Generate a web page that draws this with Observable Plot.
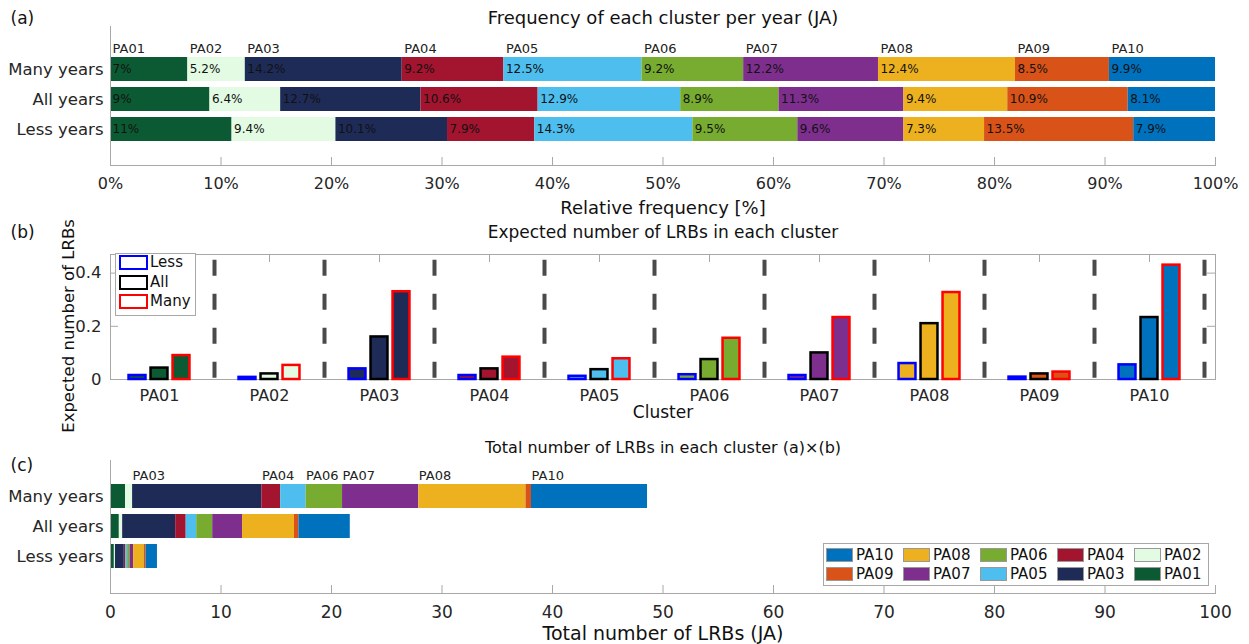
<!DOCTYPE html>
<html><head><meta charset="utf-8">
<script src="https://cdn.jsdelivr.net/npm/d3@7"></script>
<script src="https://cdn.jsdelivr.net/npm/@observablehq/plot@0.6"></script>
<style>
body{margin:0;background:#fff;font-family:"DejaVu Sans",sans-serif;}
#wrap{position:relative;width:1249px;height:644px;overflow:hidden;background:#fff;}
.panel{position:absolute;left:0;}
.legbox{position:absolute;background:#fff;border:1px solid #a8a8a8;box-sizing:border-box;}
.sw{position:absolute;box-sizing:border-box;}
.lt{position:absolute;font-size:15px;line-height:15px;color:#111;white-space:nowrap;}
.ylab{position:absolute;font-size:16.5px;color:#111;white-space:nowrap;transform:translate(-50%,-50%) rotate(-90deg);}
</style></head><body><div id="wrap"></div>
<script>
// ---------- data ----------
const clusters = ["PA01","PA02","PA03","PA04","PA05","PA06","PA07","PA08","PA09","PA10"];
const groups = ["Many years","All years","Less years"];
const palette = ["#0c5a34","#e2fbe2","#1e2b57","#a3142f","#4dbeee","#77ac30","#7e2f8e","#edb120","#d95319","#0072bd"];
// (a) relative frequency [%]
const freqMany = [7,5.2,14.2,9.2,12.5,9.2,12.2,12.4,8.5,9.9];
const freqAll  = [9,6.4,12.7,10.6,12.9,8.9,11.3,9.4,10.9,8.1];
const freqLess = [11,9.4,10.1,7.9,14.3,9.5,9.6,7.3,13.5,7.9];
const pctTicks = [0,10,20,30,40,50,60,70,80,90,100];
// (b) expected number of LRBs
const series = ["Less","All","Many"];
const expLess = [0.015,0.008,0.040,0.015,0.012,0.018,0.015,0.060,0.009,0.055];
const expAll  = [0.043,0.021,0.160,0.040,0.037,0.075,0.100,0.210,0.021,0.233];
const expMany = [0.090,0.053,0.330,0.084,0.078,0.155,0.233,0.327,0.028,0.430];
const expTicks = [0,0.2,0.4];
// (c) total number of LRBs
const totMany = [1.36,0.64,11.7,1.7,2.3,3.3,6.9,9.7,0.5,10.5];
const totAll  = [0.8,0.3,4.8,0.95,0.95,1.45,2.7,4.7,0.4,4.65];
const totLess = [0.35,0.1,0.8,0.12,0.18,0.22,0.32,0.98,0.15,1.03];
const totTicks = [0,10,20,30,40,50,60,70,80,90,100];
const labeledC = ["PA03","PA04","PA06","PA07","PA08","PA10"];

// ---------- helpers ----------
const W = 1249, ML = 110, MR = 34;
const FONT = '"DejaVu Sans", sans-serif';
const AX = "#a8a8a8", TXT = "#262626";
const wrap = document.getElementById("wrap");
function place(svg, top){ svg.classList.add("panel"); svg.style.top = top + "px"; wrap.appendChild(svg); }
function long(arrs){ const out=[]; groups.forEach((g,gi)=>clusters.forEach((c,i)=>out.push({group:g,cluster:c,value:arrs[gi][i]}))); return out; }

// ---------- (a) ----------
const dataA = long([freqMany,freqAll,freqLess]);
const hA = 215, mtA = 26, mbA = 50, fhA = hA-mtA-mbA;
const A = Plot.plot({
  width:W, height:hA, marginLeft:ML, marginRight:MR, marginTop:mtA, marginBottom:mbA,
  style:{fontFamily:FONT, fontSize:"16px", color:TXT, background:"transparent", overflow:"visible"},
  x:{domain:[0,100]},
  y:{domain:groups, range:[53.25,144.75], paddingInner:0.2, paddingOuter:0.1},
  color:{domain:clusters, range:palette},
  marks:[
    Plot.barX(dataA, Plot.stackX({x:"value", y:"group", fill:"cluster", clip:true})),
    Plot.text(dataA, Plot.stackX1({x:"value", y:"group", text:d=>d.value+"%", textAnchor:"start", dx:2, fontSize:12, fill:"#111"})),
    Plot.text(dataA.filter(d=>d.group===groups[0]), Plot.stackX1({x:"value", y:"group", text:"cluster", textAnchor:"start", dx:2, dy:-21, fontSize:13, fill:"#222"})),
    Plot.ruleX([0], {stroke:AX}),
    Plot.frame({anchor:"bottom", stroke:AX}),
    Plot.ruleX(pctTicks, {stroke:AX, insetTop:fhA-8}),
    Plot.axisX({ticks:pctTicks, tickSize:0, tickPadding:12, tickFormat:d=>d+"%", label:null}),
    Plot.axisY({tickSize:0, tickPadding:7, fontSize:16.5, label:null}),
    Plot.text(["Frequency of each cluster per year (JA)"], {frameAnchor:"top", dy:-8, lineAnchor:"middle", fontSize:18, fill:"#111"}),
    Plot.text(["(a)"], {frameAnchor:"top-left", dx:-100, dy:-8, lineAnchor:"middle", textAnchor:"start", fontSize:17, fill:"#111"}),
    Plot.text(["Relative frequency [%]"], {frameAnchor:"bottom", dy:43, lineAnchor:"middle", fontSize:18, fill:"#111"})
  ]
});
place(A, 0);

// ---------- (b) ----------
const dataB = [];
[expLess,expAll,expMany].forEach((arr,si)=>clusters.forEach((c,i)=>dataB.push({series:series[si], k:i+1, cluster:c, value:arr[i]})));
const ks = clusters.map((c,i)=>i+1);
const hB = 225, mtB = 39, mbB = 61, fhB = hB-mtB-mbB, fw = W-ML-MR;
const off = {Less:-0.2, All:0, Many:0.2};
const edge = {Less:"#0000ff", All:"#000000", Many:"#ff0000"};
const hw = 0.077;
const B = Plot.plot({
  width:W, height:hB, marginLeft:ML, marginRight:MR, marginTop:mtB, marginBottom:mbB,
  style:{fontFamily:FONT, fontSize:"16px", color:TXT, background:"transparent", overflow:"visible"},
  x:{domain:[0.5545,10.6]},
  y:{domain:[0,0.47]},
  color:{domain:clusters, range:palette},
  marks:[
    Plot.frame({stroke:AX}),
    Plot.ruleY(expTicks, {stroke:AX, insetRight:fw-8}),
    Plot.ruleY(expTicks, {stroke:AX, insetLeft:fw-8}),
    Plot.ruleX(ks, {stroke:AX, insetBottom:fhB-8}),
    Plot.ruleX(ks, {x:d=>d+0.5, y1:()=>0.448, y2:()=>0, stroke:"#4a4a4a", strokeWidth:4, strokeDasharray:"16,18"}),
    ...series.map(s=>Plot.rectY(dataB.filter(d=>d.series===s), {
      x1:d=>d.k+off[s]-hw, x2:d=>d.k+off[s]+hw, y1:()=>0, y2:"value",
      fill:"cluster", stroke:edge[s], strokeWidth:2.5})),
    Plot.axisY({ticks:expTicks, tickSize:0, tickPadding:9, tickFormat:d=>String(d), fontSize:16.5, label:null}),
    Plot.axisX({ticks:ks, tickSize:0, tickPadding:10, tickFormat:d=>clusters[d-1], fontSize:16, label:null}),
    Plot.text(["Expected number of LRBs in each cluster"], {frameAnchor:"top", dy:-22, lineAnchor:"middle", fontSize:17, fill:"#111"}),
    Plot.text(["(b)"], {frameAnchor:"top-left", dx:-100, dy:-22, lineAnchor:"middle", textAnchor:"start", fontSize:17, fill:"#111"}),
    Plot.text(["Cluster"], {frameAnchor:"bottom", dy:33, lineAnchor:"middle", fontSize:17, fill:"#111"})
  ]
});
place(B, 215);

// y label (b)
(function(){
  const t = document.createElement("div"); t.className="ylab"; t.textContent="Expected number of LRBs";
  Object.assign(t.style,{left:"68px", top:"326px"}); wrap.appendChild(t);
})();

// legend (b)
(function(){
  const box = document.createElement("div"); box.className="legbox";
  Object.assign(box.style,{left:"115px",top:"253px",width:"81px",height:"63px"}); wrap.appendChild(box);
  series.forEach((s,i)=>{
    const top = [255,275,294][i];
    const sw = document.createElement("div"); sw.className="sw";
    Object.assign(sw.style,{left:"119px",top:top+"px",width:"29px",height:"15px",border:"2.5px solid "+edge[s],background:"#fff"});
    wrap.appendChild(sw);
    const t = document.createElement("div"); t.className="lt"; t.textContent=s;
    Object.assign(t.style,{left:"150px",top:(top)+"px"}); wrap.appendChild(t);
  });
})();

// ---------- (c) ----------
const dataC = long([totMany,totAll,totLess]);
const hC = 204, mtC = 20, mbC = 51, fhC = hC-mtC-mbC;
const C = Plot.plot({
  width:W, height:hC, marginLeft:ML, marginRight:MR, marginTop:mtC, marginBottom:mbC,
  style:{fontFamily:FONT, fontSize:"16px", color:TXT, background:"transparent", overflow:"visible"},
  x:{domain:[0,100]},
  y:{domain:groups, range:[39.75,131.25], paddingInner:0.2, paddingOuter:0.1},
  color:{domain:clusters, range:palette},
  marks:[
    Plot.barX(dataC, Plot.stackX({x:"value", y:"group", fill:"cluster"})),
    Plot.text(dataC.filter(d=>d.group===groups[0]), Plot.stackX1({x:"value", y:"group", text:d=>labeledC.includes(d.cluster)?d.cluster:"", textAnchor:"start", dy:-21, fontSize:13, fill:"#222"})),
    Plot.ruleX([0], {stroke:AX}),
    Plot.frame({anchor:"bottom", stroke:AX}),
    Plot.ruleX(totTicks, {stroke:AX, insetTop:fhC-8}),
    Plot.axisX({ticks:totTicks, tickSize:0, tickPadding:12, label:null, fontSize:17}),
    Plot.axisY({tickSize:0, tickPadding:7, fontSize:16.5, label:null}),
    Plot.text(["Total number of LRBs in each cluster (a)×(b)"], {frameAnchor:"top", dy:-13, lineAnchor:"middle", fontSize:16, fill:"#111"}),
    Plot.text(["(c)"], {frameAnchor:"top-left", dx:-100, dy:5, lineAnchor:"middle", textAnchor:"start", fontSize:17, fill:"#111"}),
    Plot.text(["Total number of LRBs (JA)"], {frameAnchor:"bottom", dy:40, lineAnchor:"middle", fontSize:19, fill:"#111"})
  ]
});
place(C, 440);

// legend (c)
(function(){
  const box = document.createElement("div"); box.className="legbox";
  Object.assign(box.style,{left:"823px",top:"543px",width:"386px",height:"43px"}); wrap.appendChild(box);
  const row1 = clusters.filter((c,i)=>i%2===1).reverse();
  const row2 = clusters.filter((c,i)=>i%2===0).reverse();
  [row1,row2].forEach((row,ri)=>row.forEach((c,ci)=>{
    const left = 826 + ci*77, top = 548 + ri*19;
    const sw = document.createElement("div"); sw.className="sw";
    Object.assign(sw.style,{left:left+"px",top:top+"px",width:"27px",height:"14px",background:palette[clusters.indexOf(c)],border:"1px solid #999"});
    wrap.appendChild(sw);
    const t = document.createElement("div"); t.className="lt"; t.textContent=c;
    Object.assign(t.style,{left:(left+30)+"px",top:(top)+"px"}); wrap.appendChild(t);
  }));
})();
</script></body></html>
